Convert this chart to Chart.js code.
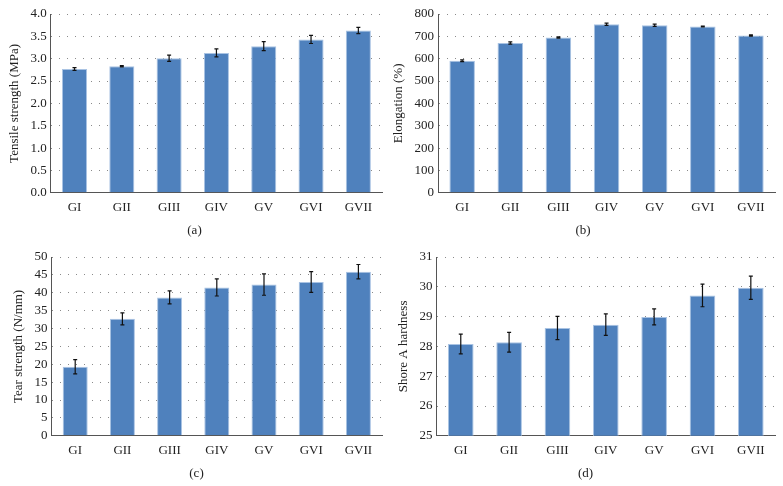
<!DOCTYPE html>
<html>
<head>
<meta charset="utf-8">
<script src="https://cdn.jsdelivr.net/npm/chart.js@4"></script>
<style>
  body { margin: 0; background: #fff; }
  .panel { position: absolute; }
</style>
</head>
<body>
<div class="panel" style="left:0;top:0;width:391px;height:243px"><canvas id="chartA"></canvas></div>
<div class="panel" style="left:391px;top:0;width:392px;height:243px"><canvas id="chartB"></canvas></div>
<div class="panel" style="left:0;top:243px;width:391px;height:243px"><canvas id="chartC"></canvas></div>
<div class="panel" style="left:391px;top:243px;width:392px;height:243px"><canvas id="chartD"></canvas></div>
<script>
const groups = ['GI', 'GII', 'GIII', 'GIV', 'GV', 'GVI', 'GVII'];

const tensile = [2.77, 2.83, 3.01, 3.13, 3.28, 3.43, 3.63];
const tensileErr = [0.03, 0.015, 0.07, 0.09, 0.10, 0.09, 0.07];

const elongation = [591, 670, 695, 754, 750, 744, 704];
const elongationErr = [4, 5, 3, 5, 5, 2, 3];

const tear = [19.3, 32.7, 38.7, 41.5, 42.3, 43.0, 45.9];
const tearErr = [2.0, 1.7, 1.8, 2.4, 3.0, 2.9, 2.0];

const hardness = [28.08, 28.14, 28.62, 28.73, 28.99, 29.71, 29.97];
const hardnessErr = [0.33, 0.33, 0.39, 0.36, 0.27, 0.38, 0.39];

const serif = 'Liberation Serif';
const textColor = '#222';

// draws the error bars using the chart's own scales
const errorBars = {
    id: 'errorBars',
    afterDatasetsDraw(chart) {
        const ctx = chart.ctx;
        const yScale = chart.scales.y;
        chart.data.datasets.forEach((ds, di) => {
            const meta = chart.getDatasetMeta(di);
            meta.data.forEach((bar, i) => {
                const v = ds.data[i];
                const e = ds.errors[i];
                const yTop = yScale.getPixelForValue(v + e);
                const yBot = yScale.getPixelForValue(v - e);
                ctx.save();
                ctx.strokeStyle = '#111';
                ctx.lineWidth = 1.2;
                ctx.beginPath();
                ctx.moveTo(bar.x, yTop);
                ctx.lineTo(bar.x, yBot);
                ctx.moveTo(bar.x - 2, yTop);
                ctx.lineTo(bar.x + 2, yTop);
                ctx.moveTo(bar.x - 2, yBot);
                ctx.lineTo(bar.x + 2, yBot);
                ctx.stroke();
                ctx.restore();
            });
        });
    }
};

function makeChart(id, values, errors, yTitle, yMin, yMax, step, decimals, caption, padLeft, padRight) {
    return new Chart(document.getElementById(id).getContext('2d'), {
        type: 'bar',
        data: {
            labels: groups,
            datasets: [{
                data: values,
                errors: errors,
                backgroundColor: '#4f81bd',
                borderColor: '#a9c3e3',
                borderWidth: 1,
                barPercentage: 0.53,
                categoryPercentage: 1.0
            }]
        },
        options: {
            responsive: true,
            maintainAspectRatio: false,
            animation: false,
            layout: { padding: { left: padLeft, right: padRight, top: 14, bottom: 2 } },
            plugins: {
                legend: { display: false },
                tooltip: { enabled: false },
                title: {
                    display: true,
                    position: 'bottom',
                    text: caption,
                    color: textColor,
                    font: { family: serif, size: 13, weight: 'normal' },
                    padding: { top: 0, bottom: 3 }
                }
            },
            scales: {
                x: {
                    grid: { display: false, drawTicks: false },
                    border: { color: '#555', width: 1 },
                    ticks: { color: textColor, font: { family: serif, size: 13 }, padding: 7 }
                },
                y: {
                    min: yMin,
                    max: yMax,
                    grid: { color: '#8a8a8a', lineWidth: 1, drawTicks: false },
                    border: { color: '#555', width: 1, dash: [1, 7] },
                    ticks: {
                        stepSize: step,
                        autoSkip: false,
                        color: textColor,
                        font: { family: serif, size: 13 },
                        padding: 4,
                        callback: v => v.toFixed(decimals)
                    },
                    title: {
                        display: true,
                        text: yTitle,
                        color: textColor,
                        font: { family: serif, size: 13 },
                        padding: { top: 0, bottom: 4 }
                    }
                }
            }
        },
        plugins: [errorBars]
    });
}

makeChart('chartA', tensile, tensileErr, 'Tensile strength (MPa)', 0, 4, 0.5, 1, '(a)', 7, 9);
makeChart('chartB', elongation, elongationErr, 'Elongation (%)', 0, 800, 100, 0, '(b)', 0, 8);
makeChart('chartC', tear, tearErr, 'Tear strength (N/mm)', 0, 50, 5, 0, '(c)', 11, 9);
makeChart('chartD', hardness, hardnessErr, 'Shore A hardness', 25, 31, 1, 0, '(d)', 5, 8);
</script>
</body>
</html>
